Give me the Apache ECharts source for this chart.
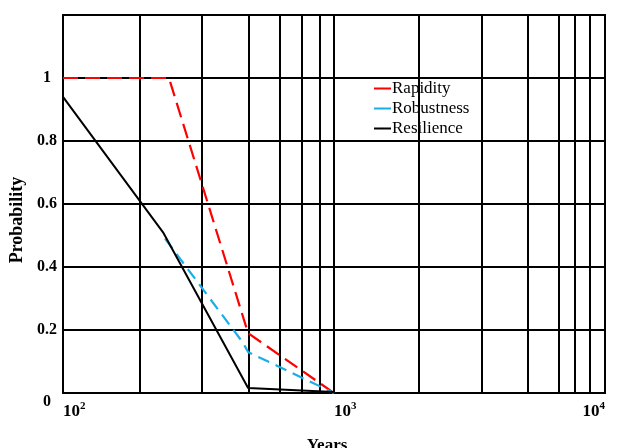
<!DOCTYPE html>
<html>
    <head>
        <meta charset="utf-8">
        <script src="https://cdn.jsdelivr.net/npm/echarts@6/dist/echarts.min.js"></script>
        <style>
            html, body { margin: 0; padding: 0; background: #fff; }
            #main { width: 617px; height: 448px; }
        </style>
    </head>
    <body>
        <div id="main"></div>
        <script>
            // curves (years, probability)
            var rapidityYears = [100, 246, 482, 1000];
            var rapidityProb = [1, 1, 0.19, 0];
            var robustnessYears = [238, 461, 482, 1000];
            var robustnessProb = [0.49, 0.16, 0.13, 0];
            var resilienceYears = [100, 234, 482, 1000];
            var resilienceProb = [0.94, 0.51, 0.016, 0.003];

            // extra vertical grid lines of the figure (not evenly log spaced)
            var gridYears = [192, 326, 486, 632, 762, 888, 2060, 3520, 5200, 6770, 7750, 8810];

            var font = 'Liberation Serif';

            function pairs(xs, ys) {
                return xs.map(function (x, i) { return [x, ys[i]]; });
            }

            var chart = echarts.init(document.getElementById('main'));

            var option = {
                backgroundColor: '#fff',
                animation: false,
                grid: {
                    left: 63, right: 12, top: 15, bottom: 55,
                    outerBoundsMode: 'none',
                    show: true, borderColor: '#000', borderWidth: 2
                },
                legend: {
                    orient: 'vertical',
                    left: 368, top: 75,
                    itemWidth: 17, itemHeight: 2, itemGap: 3,
                    lineStyle: { type: 'solid', width: 2 },
                    textStyle: { fontFamily: font, fontSize: 17, color: '#000', padding: [0, 0, 0, -4] },
                    data: ['Rapidity', 'Robustness', 'Resilience']
                },
                xAxis: {
                    type: 'log', logBase: 10, min: 100, max: 10000,
                    name: 'Years', nameLocation: 'middle', nameGap: 44,
                    nameTextStyle: { fontFamily: font, fontWeight: 'bold', fontSize: 17, color: '#000', padding: [0, 14, 0, 0] },
                    axisLine: { lineStyle: { color: '#000', width: 2 } },
                    axisTick: { show: false },
                    splitLine: { show: true, lineStyle: { color: '#000', width: 2 } },
                    minorSplitLine: { show: false },
                    axisLabel: {
                        margin: 8, align: 'left', alignMaxLabel: 'right',
                        formatter: function (v) {
                            return '{b|10}{s|' + Math.round(Math.log10(v)) + '}';
                        },
                        rich: {
                            b: { fontFamily: font, fontWeight: 'bold', fontSize: 17, color: '#000', lineHeight: 22 },
                            s: { fontFamily: font, fontWeight: 'bold', fontSize: 11, color: '#000', verticalAlign: 'top', lineHeight: 22 }
                        }
                    }
                },
                yAxis: {
                    type: 'value', min: 0, max: 1.2, interval: 0.2,
                    name: 'Probability', nameLocation: 'middle', nameGap: 35,
                    nameTextStyle: { fontFamily: font, fontWeight: 'bold', fontSize: 18, color: '#000', padding: [0, 32, 0, 0] },
                    axisLine: { show: true, lineStyle: { color: '#000', width: 2 } },
                    axisTick: { show: false },
                    splitLine: { show: true, lineStyle: { color: '#000', width: 2 } },
                    axisLabel: {
                        margin: 16, align: 'center',
                        formatter: function (v) {
                            if (v > 1.1) return '';
                            if (v === 0) return '{z|0}';
                            return String(Math.round(v * 10) / 10);
                        },
                        fontFamily: font, fontWeight: 'bold', fontSize: 16, color: '#000',
                        rich: {
                            z: { fontFamily: font, fontWeight: 'bold', fontSize: 16, color: '#000', padding: [18, 0, 0, 0] }
                        }
                    }
                },
                series: [
                    {
                        name: 'Rapidity', type: 'line', symbol: 'none', z: 5,
                        data: pairs(rapidityYears, rapidityProb),
                        lineStyle: { color: '#ff0000', width: 2.2, type: [15, 7] },
                        itemStyle: { color: '#ff0000' },
                        markLine: {
                            silent: true, symbol: 'none', label: { show: false },
                            lineStyle: { color: '#000', width: 2, type: 'solid' },
                            data: gridYears.map(function (y) { return { xAxis: y }; })
                        }
                    },
                    {
                        name: 'Robustness', type: 'line', symbol: 'none', z: 5,
                        data: pairs(robustnessYears, robustnessProb),
                        lineStyle: { color: '#1aaee8', width: 2.2, type: [12, 7] },
                        itemStyle: { color: '#1aaee8' }
                    },
                    {
                        name: 'Resilience', type: 'line', symbol: 'none', z: 5,
                        data: pairs(resilienceYears, resilienceProb),
                        lineStyle: { color: '#000', width: 2 },
                        itemStyle: { color: '#000' }
                    }
                ]
            };

            chart.setOption(option);
        </script>
    </body>
</html>
